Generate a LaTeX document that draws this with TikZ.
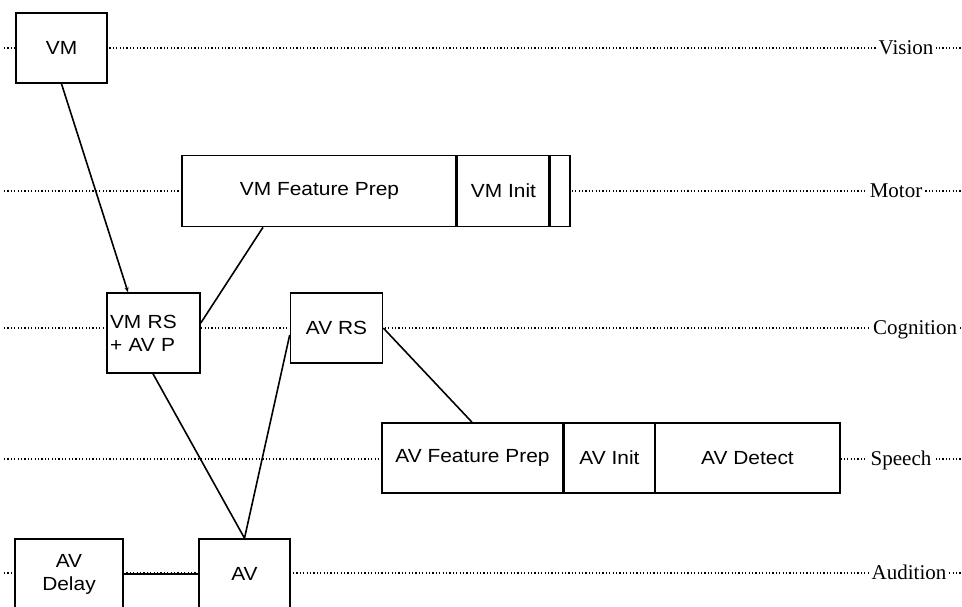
\documentclass[tikz,border=0pt]{standalone}
\usepackage{fontspec}
\setmainfont{Liberation Serif}
\newfontfamily\boxfont[FakeStretch=1.1]{Liberation Sans}
\usetikzlibrary{arrows.meta,calc}
\tikzset{
  lane/.style={line width=1.6pt, dash pattern=on 1.1pt off 2.3pt},
  opbox/.style={draw, fill=white, line width=1.6pt, inner sep=0pt, minimum height=70pt,
    font=\boxfont\fontsize{19}{23}\selectfont, align=center},
  lanelabel/.style={fill=white, inner xsep=3pt, inner ysep=1pt, anchor=base,
    font=\fontsize{21}{24}\selectfont},
  link/.style={line width=1.6pt},
  divider/.style={line width=3pt}
}
\begin{document}
\begin{tikzpicture}[x=1pt,y=-1pt]
\useasboundingbox (0,0) rectangle (962,606);
\clip (0,0) rectangle (962,606);
% lane coordinates
\coordinate (visL) at (4,48);   \coordinate (visR) at (962,48);
\coordinate (motL) at (4,191);  \coordinate (motR) at (962,191);
\coordinate (cogL) at (4,328);  \coordinate (cogR) at (962,328);
\coordinate (spL) at (4,459);   \coordinate (spR) at (962,459);
\coordinate (auL) at (4,573);   \coordinate (auR) at (962,573);
\draw[lane] (visL) -- (visR);
\draw[lane] (motL) -- (motR);
\draw[lane] (cogL) -- (cogR);
\draw[lane] (spL) -- (spR);
\draw[lane] (auL) -- (auR);
% lane labels
\node[lanelabel] (lvis) at (906,54) {Vision};
\node[lanelabel] (lmot) at (896,197) {Motor};
\node[lanelabel] (lcog) at (915,334) {Cognition};
\node[lanelabel] (lsp) at (901,465) {Speech};
\node[lanelabel] (lau) at (909,579) {Audition};
% boxes
\node[opbox, minimum width=91pt] (vm) at (61.5,48) {VM};
\node[opbox, minimum width=275pt, minimum height=71pt] (vmfp) at (319.5,191) {VM Feature Prep};
\node[opbox, minimum width=93pt, minimum height=71pt] (vminit) at (503.5,191) {VM Init};
\node[opbox, minimum width=20pt, minimum height=71pt] (vmtail) at (560,191) {};
\node[opbox, minimum height=80pt, text width=87pt, inner xsep=3pt, align=left] (vmrs) at (153.5,333) {VM RS\\+ AV P};
\node[opbox, minimum width=92pt] (avrs) at (336.5,328) {AV RS};
\node[opbox, minimum width=181pt] (avfp) at (472.5,458) {AV Feature Prep};
\node[opbox, minimum width=91pt] (avinit) at (609.5,458) {AV Init};
\node[opbox, minimum width=185pt] (avdet) at (747.5,458) {AV Detect};
\node[opbox, minimum width=108pt] (avdelay) at (69,574) {AV\\Delay};
\node[opbox, minimum width=91pt] (av) at (244.5,574) {AV};
% thick dividers
\draw[divider] (vminit.north west) -- (vminit.south west);
\draw[divider] (vmtail.north west) -- (vmtail.south west);
% connectors
\draw[link, -{Stealth[length=5pt,width=4pt]}] (vm.south) -- ([xshift=-25.5pt]vmrs.north);
\draw[link] ([xshift=-56.5pt]vmfp.south) -- ([yshift=10pt]vmrs.east);
\draw[link] ([xshift=-0.5pt]vmrs.south) -- (av.north);
\draw[link] (av.north) -- ([yshift=-7pt]avrs.west);
\draw[link] (avrs.east) -- ([xshift=-0.5pt]avfp.north);
\draw[link] (avdelay.east) -- (av.west);
\end{tikzpicture}
\end{document}
